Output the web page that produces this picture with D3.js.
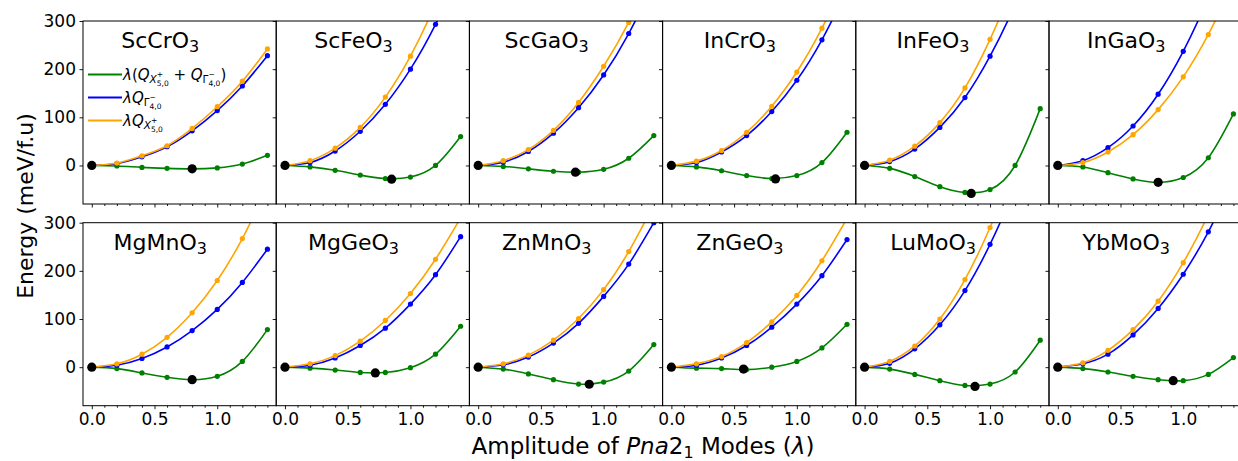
<!DOCTYPE html>
<html>
<head>
<meta charset="utf-8">
<script src="https://cdn.jsdelivr.net/npm/d3@7"></script>
<style>
  body { margin: 0; background: #fff; }
  text { font-family: "DejaVu Sans", sans-serif; }
</style>
</head>
<body>
<div id="chart"></div>
<script>
const width = 1238;
const height = 461;

// chart values
const materials = [
    ['Sc', 'Cr'], ['Sc', 'Fe'], ['Sc', 'Ga'], ['In', 'Cr'], ['In', 'Fe'], ['In', 'Ga'],
    ['Mg', 'Mn'], ['Mg', 'Ge'], ['Zn', 'Mn'], ['Zn', 'Ge'], ['Lu', 'Mo'], ['Yb', 'Mo']
];
const amplitudes = [0, 0.2, 0.4, 0.6, 0.8, 1.0, 1.2, 1.4];

// lambda * Q(X5+)
const energyX5 = [
    [0, 5, 20, 41, 77, 122, 175, 242],
    [0, 10, 36, 79, 142, 227, 337, 472],
    [0, 10, 33, 73, 131, 206, 297, 407],
    [0, 9, 31, 69, 123, 194, 285, 396],
    [0, 11, 40, 89, 161, 262, 387, 540],
    [0, 6, 28, 64, 116, 184, 272, 380],
    [0, 7, 27, 62, 113, 180, 267, 374],
    [0, 7, 24, 54, 97, 153, 224, 310],
    [0, 7, 25, 56, 101, 161, 240, 338],
    [0, 7, 22, 51, 94, 149, 221, 309],
    [0, 12, 44, 100, 182, 290, 425, 590],
    [0, 9, 35, 78, 137, 217, 317, 437]
];
// lambda * Q(Gamma4-)
const energyG4 = [
    [0, 4, 18, 39, 72, 114, 165, 228],
    [0, 6, 30, 71, 127, 200, 293, 406],
    [0, 7, 29, 67, 120, 188, 274, 378],
    [0, 6, 28, 62, 112, 177, 261, 365],
    [0, 8, 34, 79, 141, 227, 335, 470],
    [0, 10, 37, 82, 148, 237, 349, 480],
    [0, 4, 18, 42, 76, 120, 176, 245],
    [0, 4, 19, 45, 81, 131, 192, 271],
    [0, 5, 21, 50, 91, 147, 214, 300],
    [0, 4, 19, 45, 83, 131, 190, 265],
    [0, 8, 38, 88, 159, 255, 375, 520],
    [0, 7, 27, 67, 122, 193, 281, 388]
];
// lambda * (Q(X5+) + Q(Gamma4-))
const energyBoth = [
    [0, -1, -4, -6, -7, -5, 3, 21],
    [0, -3, -10, -20, -27, -24, 0, 60],
    [0, -2, -7, -12, -14, -8, 15, 62],
    [0, -3, -11, -21, -27, -21, 6, 69],
    [0, -6, -23, -44, -56, -50, 0, 118],
    [0, -3, -15, -28, -35, -25, 16, 107],
    [0, -3, -12, -21, -26, -19, 12, 78],
    [0, -2, -6, -11, -11, -1, 27, 85],
    [0, -4, -14, -26, -35, -31, -8, 47],
    [0, -2, -3, -5, 0, 12, 40, 89],
    [0, -4, -15, -28, -38, -35, -10, 56],
    [0, -3, -10, -19, -26, -28, -15, 20]
];
const minAmp = [0.8, 0.85, 0.775, 0.83, 0.85, 0.8, 0.8, 0.72, 0.885, 0.575, 0.88, 0.92];
const minEnergy = [-7, -28.5, -14, -28, -58, -35, -26, -12, -35.5, -4, -40, -28];

const xTicks = [0, 0.5, 1.0];
const xMinorTicks = [0.1, 0.2, 0.3, 0.4, 0.6, 0.7, 0.8, 0.9, 1.1, 1.2, 1.3, 1.4];
const yTicks = [0, 100, 200, 300];

const panelLeft = 83;
const panelW = 193.2;
const panelH = 183;
const rowTops = [21, 222.7];

const svg = d3.select('#chart').append('svg')
    .attr('width', width)
    .attr('height', height);

svg.append('rect').attr('width', width).attr('height', height).attr('fill', '#fff');

const x = d3.scaleLinear().domain([-0.07, 1.47]).range([0, panelW]);
const y = d3.scaleLinear().domain([-80, 300]).range([panelH, 0]);

const line = d3.line()
    .x(d => x(d[0]))
    .y(d => y(d[1]))
    .curve(d3.curveNatural);

// Q with a stacked sub/superscript, like matplotlib mathtext
function addQ(t, letter, sign, sub, fs) {
    const s1 = fs * 0.7;
    const s2 = fs * 0.5;
    t.append('tspan').attr('font-style', 'italic').text('Q');
    t.append('tspan').attr('font-size', s1).attr('dy', fs * 0.25)
        .attr('font-style', letter === 'X' ? 'italic' : 'normal').text(letter);
    t.append('tspan').attr('font-size', s2).attr('dy', -fs * 0.42).text(sign);
    t.append('tspan').attr('font-size', s2).attr('dx', -s2 * 0.84).attr('dy', fs * 0.62).text(sub);
    return -fs * 0.45;
}

function drawPanel(i) {
    const row = Math.floor(i / 6);
    const col = i % 6;
    const g = svg.append('g')
        .attr('transform', `translate(${panelLeft + col * panelW}, ${rowTops[row]})`);

    g.append('clipPath').attr('id', `clip${i}`)
        .append('rect').attr('width', panelW).attr('height', panelH);

    const plot = g.append('g').attr('clip-path', `url(#clip${i})`);

    const series = [
        { vals: energyBoth[i], color: 'green' },
        { vals: energyG4[i], color: 'blue' },
        { vals: energyX5[i], color: 'orange' }
    ];

    series.forEach(s => {
        const pts = amplitudes.map((a, k) => [a, s.vals[k]]);
        plot.append('path')
            .attr('d', line(pts))
            .attr('fill', 'none')
            .attr('stroke', s.color)
            .attr('stroke-width', 1.6);
        plot.selectAll(null)
            .data(pts)
            .enter()
            .append('circle')
            .attr('cx', d => x(d[0]))
            .attr('cy', d => y(d[1]))
            .attr('r', 2.6)
            .attr('fill', s.color);
    });

    plot.selectAll(null)
        .data([[0, 0], [minAmp[i], minEnergy[i]]])
        .enter()
        .append('circle')
        .attr('cx', d => x(d[0]))
        .attr('cy', d => y(d[1]))
        .attr('r', 4.6)
        .attr('fill', 'black');

    // axes
    g.append('g')
        .attr('transform', `translate(0, ${panelH})`)
        .call(d3.axisBottom(x).tickValues(xTicks).tickSize(3.5).tickPadding(3.5)
            .tickFormat(row === 1 ? d3.format('.1f') : ''));
    g.append('g')
        .attr('transform', `translate(0, ${panelH})`)
        .call(d3.axisBottom(x).tickValues(xMinorTicks).tickSize(2).tickFormat(''));
    g.append('g')
        .call(d3.axisLeft(y).tickValues(yTicks).tickSize(3.5).tickPadding(3.5)
            .tickFormat(col === 0 ? d3.format('d') : ''));

    g.selectAll('.domain').remove();
    g.selectAll('.tick line').attr('stroke', '#000').attr('stroke-width', 0.9);
    g.selectAll('.tick text')
        .style('font-family', '"DejaVu Sans", sans-serif')
        .style('font-size', '17px')
        .attr('fill', '#000');

    g.append('rect')
        .attr('width', panelW)
        .attr('height', panelH)
        .attr('fill', 'none')
        .attr('stroke', '#000')
        .attr('stroke-width', 1);

    const title = g.append('text')
        .attr('x', panelW * 0.4)
        .attr('y', 27)
        .attr('text-anchor', 'middle')
        .style('font-size', '22px');
    title.append('tspan').text(materials[i][0] + materials[i][1] + 'O');
    title.append('tspan').attr('font-size', 16).attr('dy', 4).text('3');

    if (i === 0) drawLegend(g);
}

function drawLegend(g) {
    const fs = 15;
    const entries = [
        { color: 'green', kind: 'both' },
        { color: 'blue', kind: 'g4' },
        { color: 'orange', kind: 'x5' }
    ];
    entries.forEach((e, k) => {
        const ly = 53.5 + k * 23;
        g.append('line')
            .attr('x1', 5).attr('x2', 39)
            .attr('y1', ly).attr('y2', ly)
            .attr('stroke', e.color)
            .attr('stroke-width', 1.8);
        const t = g.append('text')
            .attr('x', 40)
            .attr('y', ly + 5)
            .style('font-size', fs + 'px');
        t.append('tspan').attr('font-style', 'italic').text('λ');
        if (e.kind === 'both') {
            t.append('tspan').text('(');
            let back = addQ(t, 'X', '+', '5,0', fs);
            t.append('tspan').attr('dy', back).text(' + ');
            back = addQ(t, 'Γ', '−', '4,0', fs);
            t.append('tspan').attr('dy', back).text(')');
        } else if (e.kind === 'g4') {
            addQ(t, 'Γ', '−', '4,0', fs);
        } else {
            addQ(t, 'X', '+', '5,0', fs);
        }
    });
}

materials.forEach((m, i) => drawPanel(i));

// axis titles
svg.append('text')
    .attr('transform', 'translate(33, 206) rotate(-90)')
    .attr('text-anchor', 'middle')
    .style('font-size', '22px')
    .text('Energy (meV/f.u)');

const xl = svg.append('text')
    .attr('x', 643)
    .attr('y', 454)
    .attr('text-anchor', 'middle')
    .style('font-size', '23px');
xl.append('tspan').text('Amplitude of ');
xl.append('tspan').attr('font-style', 'italic').text('Pna');
xl.append('tspan').text('2');
xl.append('tspan').attr('font-size', 16).attr('dy', 4).text('1');
xl.append('tspan').attr('dy', -4).text(' Modes (');
xl.append('tspan').attr('font-style', 'italic').text('λ');
xl.append('tspan').text(')');
</script>
</body>
</html>
